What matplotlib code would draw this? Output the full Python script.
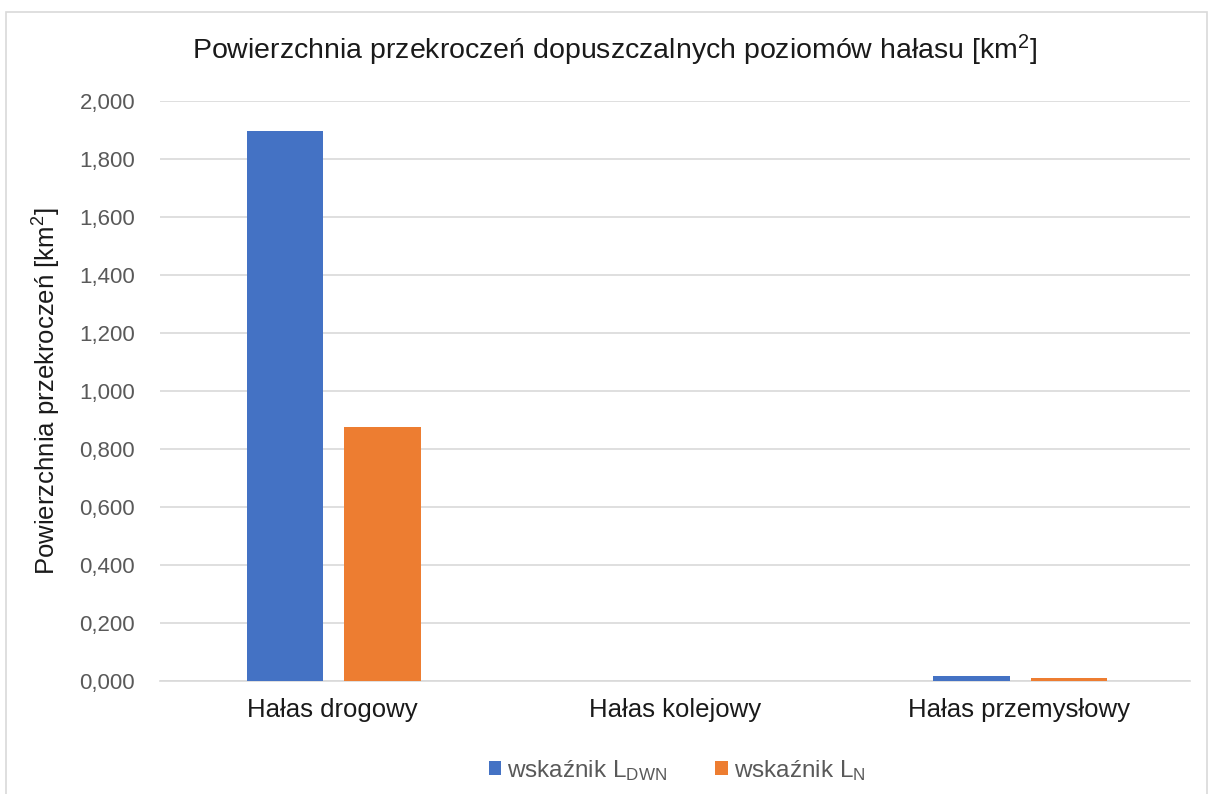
import matplotlib
matplotlib.use("Agg")
import matplotlib.pyplot as plt
import numpy as np
from matplotlib.patches import Rectangle
from matplotlib.ticker import FuncFormatter

plt.rcParams['font.family'] = ['Liberation Sans', 'DejaVu Sans']
plt.rcParams['mathtext.fontset'] = 'custom'
plt.rcParams['mathtext.rm'] = 'Liberation Sans'
plt.rcParams['mathtext.it'] = 'Liberation Sans'

categories = ["Hałas drogowy", "Hałas kolejowy", "Hałas przemysłowy"]
ldwn = [1.895, 0.0, 0.019]
ln = [0.875, 0.0, 0.009]
series_labels = [r"wskaźnik L$_{\mathregular{DWN}}$", r"wskaźnik L$_{\mathregular{N}}$"]
yticks = [0.0, 0.2, 0.4, 0.6, 0.8, 1.0, 1.2, 1.4, 1.6, 1.8, 2.0]

blue = "#4472C4"
orange = "#ED7D31"
txt = "#595959"

fig = plt.figure(figsize=(12.09, 7.94), dpi=100)
fig.patches.append(Rectangle((0.005, -0.01), 0.993, 0.995, transform=fig.transFigure,
                             fill=False, edgecolor="#d9d9d9", linewidth=1.2))
ax = fig.add_axes([0.1325, 0.1423, 0.852, 0.7305])

x = np.arange(len(categories))
w = 0.223
off = 0.142
ax.bar(x - off + 0.005, ldwn, width=w, color=blue, label=series_labels[0], zorder=3)
ax.bar(x + off + 0.005, ln, width=w, color=orange, label=series_labels[1], zorder=3)

ax.set_xlim(-0.5, 2.5)
ax.set_ylim(0, 2.0)
ax.set_yticks(yticks)
ax.yaxis.set_major_formatter(FuncFormatter(lambda v, p: f"{v:.3f}".replace(".", ",")))
ax.grid(axis='y', color="#d9d9d9", linewidth=1.2, zorder=0)
for s in ['top', 'right', 'left']:
    ax.spines[s].set_visible(False)
ax.spines['bottom'].set_color("#d9d9d9")
ax.spines['bottom'].set_linewidth(1.2)
ax.set_xticks(x)
ax.set_xticklabels(categories, fontsize=18.5, color="#1a1a1a")
ax.tick_params(axis='x', length=0, pad=12)
ax.tick_params(axis='y', length=0, pad=18, labelsize=16, labelcolor=txt)
ax.set_ylabel(r"Powierzchnia przekroczeń [km$^{\mathregular{2}}$]", fontsize=18.5, labelpad=12,
              color="#1a1a1a")

fig.text(0.508, 0.936, r"Powierzchnia przekroczeń dopuszczalnych poziomów hałasu [km$^{\mathregular{2}}$]",
         ha='center', va='center', fontsize=20.5, color="#1a1a1a")

leg = fig.legend(loc='center', bbox_to_anchor=(0.56, 0.03), ncol=2, frameon=False,
                 fontsize=17.5, handlelength=0.5, handleheight=0.5, handletextpad=0.25,
                 columnspacing=2.0, labelcolor=txt)

fig.savefig("out.png", dpi=100)
